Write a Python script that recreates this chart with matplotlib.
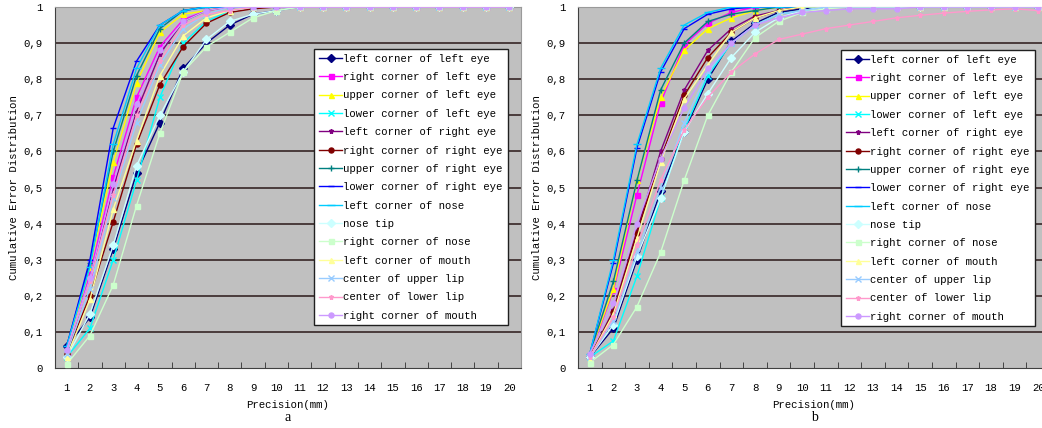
import numpy as np
import matplotlib
matplotlib.use("Agg")
import matplotlib.pyplot as plt
from matplotlib.ticker import FixedLocator

plt.rcParams['font.family'] = ['Liberation Mono', 'DejaVu Sans Mono']

precision = list(range(1, 21))
names = ["left corner of left eye", "right corner of left eye", "upper corner of left eye",
         "lower corner of left eye", "left corner of right eye", "right corner of right eye",
         "upper corner of right eye", "lower corner of right eye", "left corner of nose",
         "nose tip", "right corner of nose", "left corner of mouth", "center of upper lip",
         "center of lower lip", "right corner of mouth"]

# Excel 2003 style series colours / markers
colors = ["#000080", "#FF00FF", "#FFFF00", "#00FFFF", "#800080", "#800000", "#008080", "#0000FF",
          "#00CCFF", "#CCFFFF", "#CCFFCC", "#FFFF99", "#99CCFF", "#FF99CC", "#CC99FF"]
markers = ["D", "s", "^", "x", "*", "o", "+", "_", "_", "D", "s", "^", "x", "*", "o"]

# (a) cumulative error distribution
cdf_a = [
    [0.06, 0.14, 0.33, 0.54, 0.68, 0.83, 0.90, 0.95, 0.98, 0.99, 1, 1, 1, 1, 1, 1, 1, 1, 1, 1],
    [0.04, 0.26, 0.53, 0.75, 0.89, 0.965, 0.99, 1, 1, 1, 1, 1, 1, 1, 1, 1, 1, 1, 1, 1],
    [0.05, 0.28, 0.57, 0.79, 0.93, 0.98, 0.99, 1, 1, 1, 1, 1, 1, 1, 1, 1, 1, 1, 1, 1],
    [0.03, 0.11, 0.30, 0.52, 0.75, 0.90, 0.96, 0.99, 1, 1, 1, 1, 1, 1, 1, 1, 1, 1, 1, 1],
    [0.04, 0.25, 0.50, 0.71, 0.87, 0.96, 0.99, 1, 1, 1, 1, 1, 1, 1, 1, 1, 1, 1, 1, 1],
    [0.04, 0.20, 0.405, 0.62, 0.785, 0.89, 0.955, 0.985, 0.995, 1, 1, 1, 1, 1, 1, 1, 1, 1, 1, 1],
    [0.06, 0.29, 0.60, 0.81, 0.94, 0.99, 1, 1, 1, 1, 1, 1, 1, 1, 1, 1, 1, 1, 1, 1],
    [0.06, 0.30, 0.665, 0.85, 0.95, 0.99, 1, 1, 1, 1, 1, 1, 1, 1, 1, 1, 1, 1, 1, 1],
    [0.06, 0.28, 0.62, 0.83, 0.95, 0.99, 1, 1, 1, 1, 1, 1, 1, 1, 1, 1, 1, 1, 1, 1],
    [0.03, 0.15, 0.34, 0.56, 0.70, 0.82, 0.91, 0.96, 0.98, 0.99, 1, 1, 1, 1, 1, 1, 1, 1, 1, 1],
    [0.01, 0.09, 0.23, 0.45, 0.65, 0.82, 0.89, 0.93, 0.97, 0.99, 1, 1, 1, 1, 1, 1, 1, 1, 1, 1],
    [0.03, 0.19, 0.44, 0.63, 0.81, 0.92, 0.97, 0.99, 1, 1, 1, 1, 1, 1, 1, 1, 1, 1, 1, 1],
    [0.04, 0.22, 0.47, 0.68, 0.84, 0.94, 0.98, 1, 1, 1, 1, 1, 1, 1, 1, 1, 1, 1, 1, 1],
    [0.05, 0.24, 0.48, 0.70, 0.85, 0.95, 0.98, 0.99, 1, 1, 1, 1, 1, 1, 1, 1, 1, 1, 1, 1],
    [0.05, 0.25, 0.51, 0.73, 0.88, 0.96, 0.99, 1, 1, 1, 1, 1, 1, 1, 1, 1, 1, 1, 1, 1],
]

# (b)
cdf_b = [
    [0.03, 0.11, 0.30, 0.49, 0.655, 0.80, 0.905, 0.955, 0.985, 0.995, 1, 1, 1, 1, 1, 1, 1, 1, 1, 1],
    [0.035, 0.215, 0.48, 0.735, 0.895, 0.955, 0.985, 1, 1, 1, 1, 1, 1, 1, 1, 1, 1, 1, 1, 1],
    [0.04, 0.22, 0.52, 0.75, 0.88, 0.94, 0.97, 0.99, 1, 1, 1, 1, 1, 1, 1, 1, 1, 1, 1, 1],
    [0.03, 0.075, 0.255, 0.47, 0.66, 0.81, 0.90, 0.95, 0.98, 0.99, 1, 1, 1, 1, 1, 1, 1, 1, 1, 1],
    [0.03, 0.16, 0.38, 0.60, 0.77, 0.88, 0.94, 0.975, 0.99, 1, 1, 1, 1, 1, 1, 1, 1, 1, 1, 1],
    [0.03, 0.155, 0.375, 0.58, 0.755, 0.86, 0.93, 0.97, 0.99, 1, 1, 1, 1, 1, 1, 1, 1, 1, 1, 1],
    [0.04, 0.24, 0.52, 0.77, 0.90, 0.96, 0.98, 0.99, 1, 1, 1, 1, 1, 1, 1, 1, 1, 1, 1, 1],
    [0.04, 0.29, 0.61, 0.82, 0.94, 0.98, 0.995, 1, 1, 1, 1, 1, 1, 1, 1, 1, 1, 1, 1, 1],
    [0.04, 0.30, 0.62, 0.83, 0.95, 0.985, 1, 1, 1, 1, 1, 1, 1, 1, 1, 1, 1, 1, 1, 1],
    [0.03, 0.12, 0.31, 0.47, 0.655, 0.76, 0.86, 0.93, 0.97, 0.99, 1, 1, 1, 1, 1, 1, 1, 1, 1, 1],
    [0.015, 0.065, 0.17, 0.32, 0.52, 0.70, 0.82, 0.915, 0.96, 0.985, 0.995, 1, 1, 1, 1, 1, 1, 1, 1, 1],
    [0.03, 0.15, 0.36, 0.57, 0.745, 0.84, 0.93, 0.97, 0.99, 1, 1, 1, 1, 1, 1, 1, 1, 1, 1, 1],
    [0.03, 0.13, 0.32, 0.50, 0.68, 0.82, 0.90, 0.95, 0.98, 0.99, 1, 1, 1, 1, 1, 1, 1, 1, 1, 1],
    [0.03, 0.14, 0.34, 0.52, 0.66, 0.75, 0.82, 0.87, 0.91, 0.925, 0.94, 0.95, 0.96, 0.97, 0.977,
     0.983, 0.988, 0.992, 0.995, 0.99],
    [0.04, 0.18, 0.40, 0.58, 0.72, 0.83, 0.90, 0.95, 0.97, 0.985, 0.99, 0.995, 0.995, 0.995, 1, 1,
     1, 1, 1, 1],
]

ytick_vals = [0, 0.1, 0.2, 0.3, 0.4, 0.5, 0.6, 0.7, 0.8, 0.9, 1]
ytick_lbls = ["0", "0,1", "0,2", "0,3", "0,4", "0,5", "0,6", "0,7", "0,8", "0,9", "1"]

W, H = 1042, 428
fig = plt.figure(figsize=(W / 100, H / 100), dpi=100)
fs = 7.7

def panel(rect, data, tag, leg_xy):
    ax = fig.add_axes(rect)
    ax.set_facecolor("#C0C0C0")
    for v in ytick_vals[1:-1]:
        ax.axhline(v, color="#2a1818", lw=1.1, zorder=1)
    for i in range(len(names)):
        ms = 5 if markers[i] in ("_", "+", "x") else 3.6
        if i == 8:
            ms = 6
        ax.plot(precision, data[i], color=colors[i], marker=markers[i], ms=ms, lw=1.0,
                mew=1.0, label=names[i], zorder=3)
    ax.set_xlim(0.5, 20.5)
    ax.set_ylim(0, 1)
    ax.set_xticks(precision)
    ax.set_xticklabels([str(p) for p in precision], fontsize=fs)
    ax.xaxis.set_minor_locator(FixedLocator(np.arange(0.5, 21, 1)))
    ax.tick_params(axis="x", which="major", length=0, pad=11)
    ax.tick_params(axis="x", which="minor", direction="in", length=4, color="#303030")
    ax.set_yticks(ytick_vals)
    ax.set_yticklabels(ytick_lbls, fontsize=fs)
    ax.tick_params(axis="y", length=0, pad=9)
    for s in ["left", "bottom"]:
        ax.spines[s].set_color("#404040")
    for s in ["top", "right"]:
        ax.spines[s].set_color("#9a9a9a")
    ax.set_xlabel("Precision(mm)", fontsize=fs, labelpad=5)
    ax.set_ylabel("Cumulative Error Distribution", fontsize=fs, labelpad=3)
    ax.text(0.5, -0.138, tag, transform=ax.transAxes, ha="center", va="center",
            fontsize=10, family="Liberation Serif")
    leg = ax.legend(loc="upper left", bbox_to_anchor=leg_xy, bbox_transform=fig.transFigure,
                    fontsize=fs, frameon=True, fancybox=False, handlelength=2.2,
                    handletextpad=0.1, labelspacing=0.78, borderpad=0.45, borderaxespad=0)
    leg.get_frame().set_edgecolor("#202020")
    leg.get_frame().set_linewidth(1.0)
    leg.get_frame().set_alpha(1)
    return ax

panel([55 / W, 60 / H, 466 / W, 361 / H], cdf_a, "a", (314 / W, 1 - 49 / H))
panel([578 / W, 60 / H, 472 / W, 361 / H], cdf_b, "b", (841 / W, 1 - 50 / H))

fig.savefig("out.png", dpi=100)
